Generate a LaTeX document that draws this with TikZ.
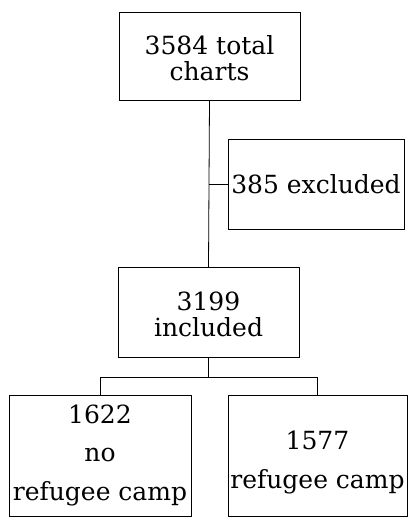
\documentclass[tikz,border=0pt]{standalone}
\usepackage{fontspec}
\setmainfont{DejaVu Serif}
\tikzset{
  flowbox/.style={draw, line width=0.8pt, align=center, inner sep=0pt,
    font=\fontsize{25}{26}\selectfont},
  flowline/.style={line width=0.8pt}
}
\begin{document}
\begin{tikzpicture}[x=1pt,y=-1pt,line cap=rect,line join=miter]
		\useasboundingbox (0,0) rectangle (409,517);
		\node[flowbox, minimum width=181, minimum height=88] (total) at (209.5,56) {\raisebox{-6pt}[\height][\depth]{\begin{tabular}{@{}c@{}}3584 total\\[0pt] charts\end{tabular}}};
		\node[flowbox, minimum width=176, minimum height=90] (excluded) at (316,184) {385 excluded};
		\node[flowbox, minimum width=181, minimum height=90] (included) at (208.5,312) {\raisebox{-6pt}[\height][\depth]{\begin{tabular}{@{}c@{}}3199\\[-1pt] included\end{tabular}}};
		\node[flowbox, minimum width=182, minimum height=121] (nocamp) at (100,455.5) {\raisebox{-1pt}[\height][\depth]{\begin{tabular}{@{}c@{}}1622\\[12pt] no\\[12pt] refugee camp\end{tabular}}};
		\node[flowbox, minimum width=179, minimum height=121] (camp) at (317.5,455.5) {\raisebox{-8pt}[\height][\depth]{\begin{tabular}{@{}c@{}}1577\\[12pt] refugee camp\end{tabular}}};
		\draw [flowline] (total.south) -- (included.north);
		\draw [flowline] (total.south |- excluded.west) -- (excluded.west);
		\draw [flowline] (included.south) -- ++(0,20) -| (nocamp.north);
		\draw [flowline] (included.south) ++(0,20) -| (camp.north);
\end{tikzpicture}
\end{document}
